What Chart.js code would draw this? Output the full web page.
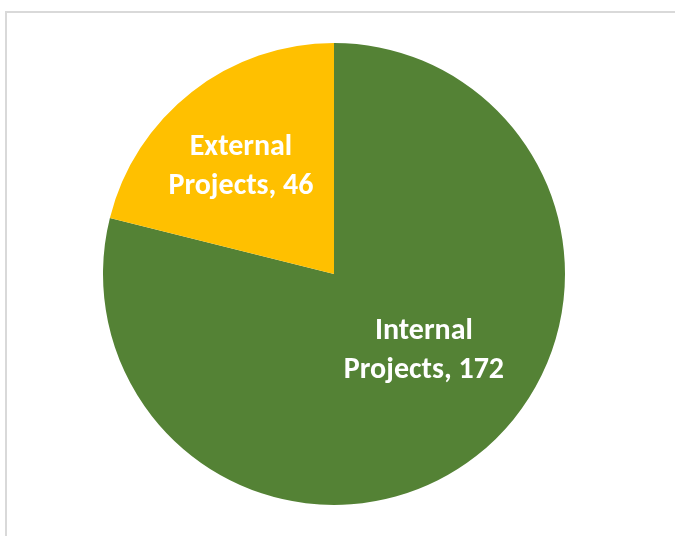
<!DOCTYPE html>
<html>
<head>
<meta charset="utf-8">
<script src="https://cdn.jsdelivr.net/npm/chart.js@4"></script>
<style>
  html, body { margin: 0; padding: 0; background: #fff; }
  #wrap { position: relative; width: 675px; height: 536px; overflow: hidden; }
  #frame { position: absolute; left: 5px; top: 11px; width: 700px; height: 600px;
           border-top: 2px solid #d9d9d9; border-left: 2px solid #d9d9d9; box-sizing: border-box; }
  canvas { position: absolute; left: 0; top: 0; }
</style>
</head>
<body>
<div id="wrap">
  <div id="frame"></div>
  <canvas id="pieChart" width="675" height="536"></canvas>
</div>
<script>
// ======================
// Dados
// ======================
const categories = ['Internal Projects', 'External Projects'];
const projectCounts = [172, 46];
const sliceColors = ['#548235', '#FFC000'];

// ======================
// Rótulos dentro das fatias (estilo Excel)
// ======================
const sliceLabels = {
  id: 'sliceLabels',
  afterDatasetsDraw(chart, args, opts) {
    const ctx = chart.ctx;
    const meta = chart.getDatasetMeta(0);
    meta.data.forEach((arc, i) => {
      const p = arc.getProps(['x', 'y', 'startAngle', 'endAngle', 'outerRadius'], true);
      const pos = opts.positions[i];
      const mid = (p.startAngle + p.endAngle) / 2 + pos.shift * Math.PI / 180;
      const r = p.outerRadius * pos.frac;
      const cx = p.x + Math.cos(mid) * r;
      const cy = p.y + Math.sin(mid) * r;
      const words = categories[i].split(' ');
      const lines = [words[0], words.slice(1).join(' ') + ', ' + projectCounts[i]];
      ctx.save();
      ctx.fillStyle = '#ffffff';
      ctx.font = 'bold 30px Calibri, Carlito, Lato, sans-serif';
      ctx.textAlign = 'center';
      ctx.textBaseline = 'middle';
      const lh = 39;
      lines.forEach((t, k) => {
        ctx.fillText(t, cx, cy + (k - (lines.length - 1) / 2) * lh);
      });
      ctx.restore();
    });
  }
};

const ctx = document.getElementById('pieChart').getContext('2d');
const pieChart = new Chart(ctx, {
  type: 'pie',
  data: {
    labels: categories,
    datasets: [{
      data: projectCounts,
      backgroundColor: sliceColors,
      borderWidth: 0
    }]
  },
  options: {
    responsive: false,
    animation: false,
    layout: { padding: { left: 103, top: 43, right: 110, bottom: 31 } },
    plugins: {
      legend: { display: false },
      tooltip: { enabled: false },
      sliceLabels: {
        positions: [
          { frac: 0.513, shift: -11.4 },
          { frac: 0.614, shift: -3 }
        ]
      }
    }
  },
  plugins: [sliceLabels]
});
</script>
</body>
</html>
